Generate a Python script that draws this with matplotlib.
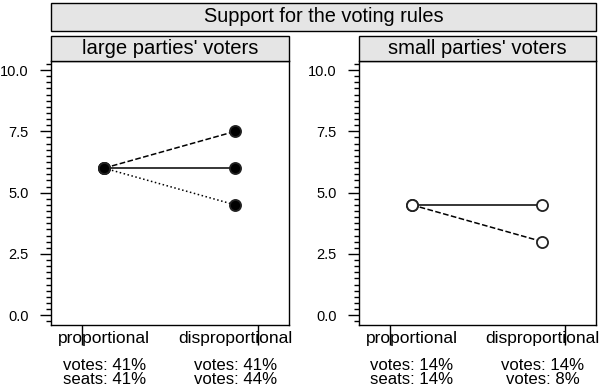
import matplotlib
matplotlib.use("Agg")
import matplotlib.pyplot as plt
from matplotlib.patches import Rectangle
from matplotlib.ticker import MultipleLocator

plt.rcParams['font.family'] = ['Liberation Sans', 'DejaVu Sans']

# data
rules = ['proportional', 'disproportional']
panels = ["large parties' voters", "small parties' voters"]
large_start = [6.0, 6.0, 6.0]
large_end = [6.0, 7.5, 4.5]
large_styles = ['-', '--', ':']
small_start = [4.5, 4.5]
small_end = [4.5, 3.0]
small_styles = ['-', '--']
large_notes = ['votes: 41%\nseats: 41%', 'votes: 41%\nvotes: 44%']
small_notes = ['votes: 14%\nseats: 14%', 'votes: 14%\nvotes: 8%']

W, H = 600, 386
fig = plt.figure(figsize=(W / 100, H / 100), dpi=100)


def box(x0, y0, x1, y1):
    # pixel box -> figure fraction
    return [x0 / W, 1 - y1 / H, (x1 - x0) / W, (y1 - y0) / H]


def strip(x0, y0, x1, y1, text, size):
    b = box(x0, y0, x1, y1)
    fig.patches.append(Rectangle((b[0], b[1]), b[2], b[3], transform=fig.transFigure,
                                 facecolor='#e5e5e5', edgecolor='black', lw=1))
    fig.text(b[0] + b[2] / 2, b[1] + b[3] / 2, text, ha='center', va='center',
             fontsize=size)


strip(51, 3, 596, 31, 'Support for the voting rules', 14.4)


def panel(x0, x1, title, starts, ends, styles, notes, filled):
    ax = fig.add_axes(box(x0, 61, x1, 325))
    strip(x0, 36, x1, 61, title, 14.6)
    for s, e, ls in zip(starts, ends, styles):
        ax.plot([1, 2], [s, e], ls=ls, color='black', lw=1.1, zorder=2)
        ax.plot([1, 2], [s, e], ls='none', marker='o', ms=8,
                mfc='black' if filled else 'white', mec='#222222', mew=1.3,
                zorder=3)
    ax.set_xlim(0.595, 2.41)
    ax.set_ylim(-0.4, 10.37)
    ax.yaxis.set_major_locator(MultipleLocator(2.5))
    ax.yaxis.set_minor_locator(MultipleLocator(0.25))
    ax.yaxis.set_major_formatter(lambda v, p: f'{v:.1f}')
    ax.tick_params(axis='y', which='major', length=8, width=1, pad=8, labelsize=10.5,
                   colors='black')
    ax.tick_params(axis='y', which='minor', length=3.8, width=1)
    ax.set_xticks([0.83, 2.17])
    ax.set_xticklabels(['', ''])
    ax.tick_params(axis='x', length=14.5, width=1)
    for sp in ax.spines.values():
        sp.set_linewidth(1)
    for i, (lab, note) in enumerate(zip(rules, notes)):
        ax.annotate(lab, (i + 1, 0), xycoords=('data', 'axes fraction'),
                    xytext=(0, -10), textcoords='offset points',
                    ha='center', va='center', fontsize=12.5)
        ax.annotate(note, (i + 1, 0), xycoords=('data', 'axes fraction'),
                    xytext=(0, -34), textcoords='offset points',
                    ha='center', va='center', fontsize=12.1, linespacing=0.9)
    return ax


panel(51, 289, panels[0], large_start, large_end, large_styles, large_notes, True)
panel(359, 596, panels[1], small_start, small_end, small_styles, small_notes, False)

fig.savefig('out.png', dpi=100)
